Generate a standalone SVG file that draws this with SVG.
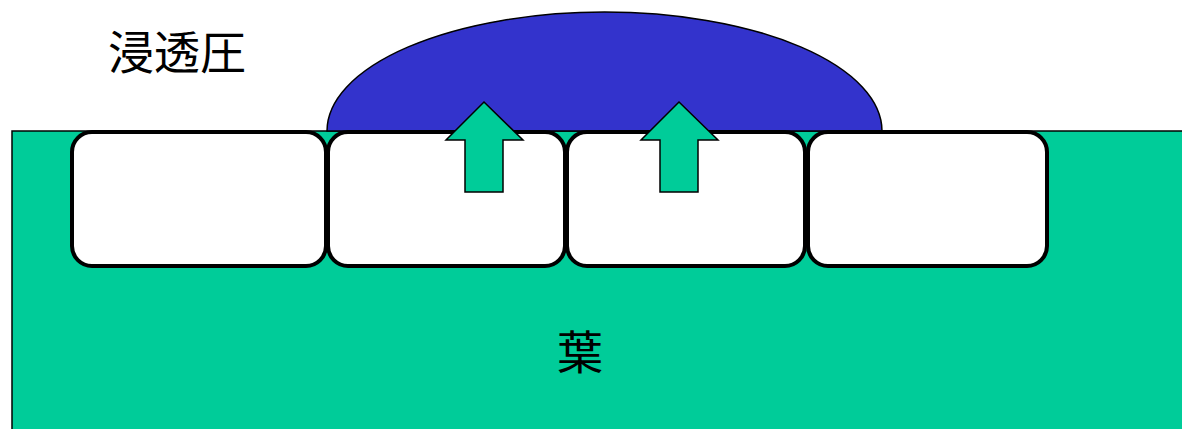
<svg xmlns="http://www.w3.org/2000/svg" width="1182" height="429" viewBox="0 0 1182 429">
  <style>
    .leaf { fill: #00CC99; stroke: #000; stroke-width: 1.5; }
    .drop { fill: #3333CC; stroke: #000; stroke-width: 1.5; }
    .cell { fill: #fff; stroke: #000; stroke-width: 4; }
    .arrow { fill: #00CC99; stroke: #000; stroke-width: 1.5; stroke-linejoin: miter; }
    .label { font-family: "Noto Sans CJK JP", "Noto Sans CJK SC", sans-serif; font-size: 46px; fill: #000; }
  </style>
  <rect width="1182" height="429" fill="#fff"/>

  <!-- leaf body -->
  <g id="leaf">
    <rect class="leaf" x="12" y="131" width="1180" height="310"/>
    <text class="label" x="580" y="369" text-anchor="middle">葉</text>
  </g>

  <!-- water droplet pushed out on the surface -->
  <g id="droplet">
    <path class="drop" d="M327,131 A277.5,119 0 0 1 882,131 Z"/>
  </g>

  <!-- epidermal cells -->
  <g id="cell1"><rect class="cell" x="72" y="132" width="254" height="134" rx="20" ry="20"/></g>
  <g id="cell2"><rect class="cell" x="328" y="132" width="237" height="134" rx="20" ry="20"/></g>
  <g id="cell3"><rect class="cell" x="567" y="132" width="238" height="134" rx="20" ry="20"/></g>
  <g id="cell4"><rect class="cell" x="808" y="132" width="239" height="134" rx="20" ry="20"/></g>

  <!-- upward pressure arrows -->
  <g id="connectors">
    <path class="arrow" d="M484,102 L523,140 L503,140 L503,192 L465,192 L465,140 L446,140 Z"/>
    <path class="arrow" d="M679,102 L718,140 L698,140 L698,192 L660,192 L660,140 L641,140 Z"/>
  </g>

  <g id="title">
    <text class="label" x="108" y="69">浸透圧</text>
  </g>
</svg>
